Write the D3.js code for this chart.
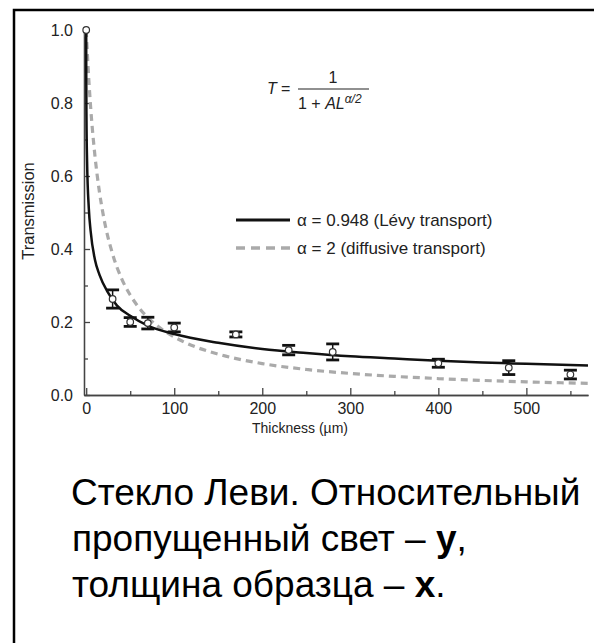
<!DOCTYPE html>
<html lang="ru">
<head>
<meta charset="UTF-8">
<title>Levy glass transmission</title>
<style>
  body { margin: 0; background: #fff; }
  svg { display: block; font-family: "Liberation Sans", Arial, sans-serif; }
</style>
</head>
<body>
<script src="https://d3js.org/d3.v7.min.js"></script>
<script>
// fitted curves
const levyL = [0, 0.05, 0.3, 1, 3, 5, 10, 15, 25, 35, 50, 70, 100, 150, 200, 250, 300, 350, 400, 450, 500, 570];
const levyT = [1.0, 0.88, 0.76, 0.64, 0.51, 0.45, 0.37, 0.33, 0.28, 0.245, 0.217, 0.19, 0.167, 0.143, 0.126, 0.115, 0.106, 0.1, 0.094, 0.089, 0.0855, 0.081];
const diffL = [0, 2, 5, 10, 15, 20, 30, 40, 50, 60, 75, 100, 125, 150, 200, 250, 300, 350, 400, 450, 500, 570];
const diffT = [1.0, 0.904, 0.79, 0.654, 0.557, 0.485, 0.386, 0.32, 0.274, 0.239, 0.201, 0.159, 0.131, 0.112, 0.086, 0.07, 0.059, 0.051, 0.045, 0.04, 0.036, 0.032];

// measured points with error bars
const measL = [0, 30, 50, 70, 100, 170, 230, 280, 400, 480, 550];
const measT = [1.0, 0.263, 0.2, 0.197, 0.185, 0.166, 0.123, 0.118, 0.087, 0.075, 0.056];
const measErr = [0, 0.025, 0.012, 0.016, 0.012, 0.007, 0.013, 0.022, 0.011, 0.019, 0.012];

const xTicks = [0, 100, 200, 300, 400, 500];
const xMinor = [50, 150, 250, 350, 450, 550];
const yTicks = [0, 0.2, 0.4, 0.6, 0.8, 1.0];
const yMinor = [0.1, 0.3, 0.5, 0.7, 0.9];

const legendLabels = ['\u03B1 = 0.948 (L\u00E9vy transport)', '\u03B1 = 2 (diffusive transport)'];

const W = 594, H = 643;
const svg = d3.select('body').append('svg').attr('width', W).attr('height', H);

// frame (only top and left edges are inside the picture)
svg.append('path').attr('d', 'M14,' + H + 'V10H' + W)
  .attr('fill', 'none').attr('stroke', '#000').attr('stroke-width', 2.5);

const x = d3.scaleLinear().domain([-2.5, 570]).range([84, 588]);
const y = d3.scaleLinear().domain([0, 1]).range([395, 30]);

const axisColor = '#444', textColor = '#222';

// x axis
const gx = svg.append('g').attr('transform', 'translate(0,' + y(0) + ')');
gx.call(d3.axisBottom(x).tickValues(xTicks).tickSizeInner(-7).tickSizeOuter(0).tickPadding(8));
gx.append('g').call(d3.axisBottom(x).tickValues(xMinor).tickSizeInner(-4).tickSizeOuter(0).tickFormat(''));
gx.selectAll('.domain').attr('stroke', axisColor).attr('stroke-width', 1.3);
gx.selectAll('.tick line').attr('stroke', axisColor).attr('stroke-width', 1.3);
gx.selectAll('.tick text').attr('fill', textColor).style('font-size', '16px');

// y axis
const gy = svg.append('g').attr('transform', 'translate(' + x(-2.5) + ',0)');
gy.call(d3.axisLeft(y).tickValues(yTicks).tickSizeInner(-6).tickSizeOuter(0).tickPadding(11).tickFormat(d3.format('.1f')));
gy.append('g').call(d3.axisLeft(y).tickValues(yMinor).tickSizeInner(-4).tickSizeOuter(0).tickFormat(''));
gy.selectAll('.domain').attr('stroke', axisColor).attr('stroke-width', 1.3);
gy.selectAll('.tick line').attr('stroke', axisColor).attr('stroke-width', 1.3);
gy.selectAll('.tick text').attr('fill', textColor).style('font-size', '16px');

// axis titles
svg.append('text').attr('x', 300).attr('y', 433).attr('text-anchor', 'middle')
  .attr('fill', textColor).style('font-size', '14px').text('Thickness (\u00B5m)');
svg.append('text').attr('transform', 'translate(34,211) rotate(-90)').attr('text-anchor', 'middle')
  .attr('fill', textColor).style('font-size', '16.5px').text('Transmission');

// curves
const line = d3.line().x(d => x(d[0])).y(d => y(d[1])).curve(d3.curveMonotoneX);
svg.append('path').datum(diffL.map((l, i) => [l, diffT[i]]))
  .attr('d', line).attr('fill', 'none').attr('stroke', '#aaa')
  .attr('stroke-width', 3.2).attr('stroke-dasharray', '7,5');
svg.append('path').datum(levyL.map((l, i) => [l, levyT[i]]))
  .attr('d', line).attr('fill', 'none').attr('stroke', '#111').attr('stroke-width', 2.5);

// measured points
const pts = svg.append('g').selectAll('g').data(measL.map((l, i) => ({ l: l, t: measT[i], e: measErr[i] })))
  .join('g');
pts.filter(d => d.e > 0).append('line')
  .attr('x1', d => x(d.l)).attr('x2', d => x(d.l))
  .attr('y1', d => y(d.t - d.e)).attr('y2', d => y(d.t + d.e))
  .attr('stroke', '#111').attr('stroke-width', 1.5);
pts.filter(d => d.e > 0).selectAll('line.cap').data(d => [[d.l, d.t - d.e], [d.l, d.t + d.e]])
  .join('line').attr('class', 'cap')
  .attr('x1', d => x(d[0]) - 6.5).attr('x2', d => x(d[0]) + 6.5)
  .attr('y1', d => y(d[1])).attr('y2', d => y(d[1]))
  .attr('stroke', '#111').attr('stroke-width', 2.8);
pts.append('circle').attr('cx', d => x(d.l)).attr('cy', d => y(d.t)).attr('r', 3.3)
  .attr('fill', '#fff').attr('stroke', '#333').attr('stroke-width', 1.2);

// legend
const lg = svg.append('g');
[{ c: '#111', dash: null, w: 3 }, { c: '#aaa', dash: '9,6', w: 3.5 }].forEach((s, i) => {
  const ly = 220 + i * 28;
  lg.append('line').attr('x1', 236).attr('x2', 290).attr('y1', ly).attr('y2', ly)
    .attr('stroke', s.c).attr('stroke-width', s.w).attr('stroke-dasharray', s.dash);
  lg.append('text').attr('x', 297).attr('y', ly + 6).attr('fill', textColor)
    .style('font-size', '17px').text(legendLabels[i]);
});

// formula T = 1 / (1 + AL^(a/2))
const fm = svg.append('g').attr('fill', textColor).style('font-size', '16px');
fm.append('text').attr('x', 267).attr('y', 94).style('font-style', 'italic').text('T');
fm.append('text').attr('x', 281).attr('y', 94).text('=');
fm.append('text').attr('x', 333).attr('y', 83).attr('text-anchor', 'middle').text('1');
fm.append('line').attr('x1', 298).attr('x2', 369).attr('y1', 89).attr('y2', 89)
  .attr('stroke', textColor).attr('stroke-width', 1.2);
const den = fm.append('text').attr('x', 298).attr('y', 109);
den.append('tspan').text('1 + ');
den.append('tspan').style('font-style', 'italic').text('AL');
den.append('tspan').attr('dy', -6).style('font-style', 'italic').style('font-size', '12px').text('\u03B1/2');

// caption
const cap = svg.append('g').style('font-size', '37px').attr('fill', '#000');
cap.append('text').attr('x', 71).attr('y', 505).text('Стекло Леви. Относительный');
const c2 = cap.append('text').attr('x', 72).attr('y', 551);
c2.append('tspan').text('пропущенный свет – ');
c2.append('tspan').style('font-weight', 'bold').text('y');
c2.append('tspan').text(',');
const c3 = cap.append('text').attr('x', 72).attr('y', 597);
c3.append('tspan').text('толщина образца – ');
c3.append('tspan').style('font-weight', 'bold').text('x');
c3.append('tspan').text('.');
</script>
</body>
</html>
